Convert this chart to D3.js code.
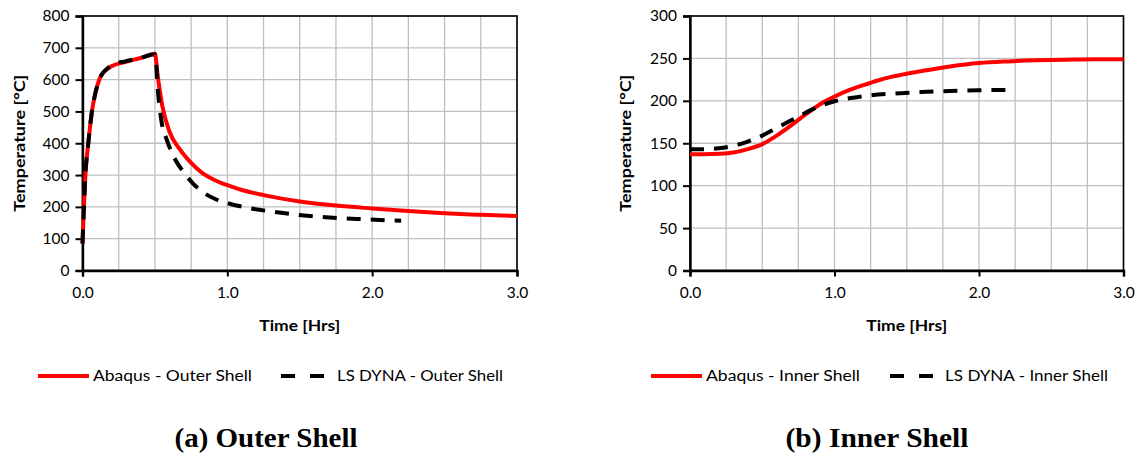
<!DOCTYPE html>
<html><head><meta charset="utf-8">
<script src="https://cdn.jsdelivr.net/npm/d3@7"></script>
<style>body{margin:0;background:#fff} svg{display:block}</style>
</head><body><svg id="c" width="1140" height="456"></svg>
<script>
// ---- data ----
const timeTickLabels = [0, 1, 2, 3];
const timeGridStep = 0.25;
const outerTempTicks = [0, 100, 200, 300, 400, 500, 600, 700, 800];
const innerTempTicks = [0, 50, 100, 150, 200, 250, 300];

const abaqusOuterTime = [0, 0.01, 0.02, 0.04, 0.065, 0.09, 0.12, 0.16, 0.2, 0.3, 0.4, 0.5, 0.52, 0.55, 0.6, 0.67, 0.75, 0.83, 0.9, 1.0, 1.1, 1.25, 1.5, 1.75, 2.0, 2.25, 2.5, 2.75, 3.0];
const abaqusOuter     = [85, 200, 300, 400, 500, 560, 605, 630, 642, 656, 668, 681, 610, 520, 437, 382, 338, 305, 287, 268, 253, 237, 217, 204, 195, 187, 180, 175, 171];
const dynaOuterTime = [0, 0.01, 0.02, 0.04, 0.065, 0.09, 0.12, 0.16, 0.2, 0.3, 0.4, 0.5, 0.524, 0.547, 0.582, 0.64, 0.7, 0.76, 0.83, 0.92, 1.0, 1.13, 1.33, 1.53, 1.73, 1.95, 2.2];
const dynaOuter     = [85, 200, 300, 400, 500, 560, 605, 630, 645, 658, 668, 680, 547, 464, 411, 349, 308, 275, 247, 224, 212, 198, 184, 173, 166, 161, 156];

const abaqusInnerTime = [0, 0.1, 0.2, 0.3, 0.4, 0.5, 0.6, 0.7, 0.8, 0.9, 1.0, 1.1, 1.2, 1.3, 1.4, 1.5, 1.6, 1.8, 2.0, 2.2, 2.4, 2.6, 2.8, 3.0];
const abaqusInner     = [137, 137, 137.5, 139, 143, 149, 159, 171, 184, 196, 205, 212.5, 218.5, 224, 228.5, 232, 235, 240.5, 244.5, 246.5, 247.8, 248.5, 249, 249];
const dynaInnerTime = [0, 0.1, 0.2, 0.3, 0.4, 0.5, 0.6, 0.7, 0.8, 0.9, 1.0, 1.1, 1.2, 1.4, 1.6, 1.8, 2.0, 2.24];
const dynaInner     = [143, 143, 144, 147, 152, 159, 168, 177, 186, 194, 199.5, 203, 205.5, 208.5, 210.3, 211.5, 212.4, 213];

const legendOuter = ["Abaqus - Outer Shell", "LS DYNA - Outer Shell"];
const legendInner = ["Abaqus - Inner Shell", "LS DYNA - Inner Shell"];
const titles = ["(a) Outer Shell", "(b) Inner Shell"];
const xTitle = "Time [Hrs]";
const yTitle = "Temperature [°C]";

// ---- drawing ----
const svg = d3.select("#c");
const FONT = "Lato, 'Open Sans', sans-serif";

function panel(o) {
  const x = d3.scaleLinear().domain([0, 3]).range([o.left, o.right]);
  const y = d3.scaleLinear().domain([0, o.yMax]).range([o.bottom, o.top]);
  const g = svg.append("g");

  // grid
  const vGrid = d3.range(0, 3 + 1e-9, timeGridStep);
  g.append("g").selectAll("line").data(vGrid).join("line")
    .attr("x1", d => x(d)).attr("x2", d => x(d))
    .attr("y1", o.top).attr("y2", o.bottom)
    .attr("stroke", "#bfbfbf").attr("stroke-width", 1.3);
  g.append("g").selectAll("line").data(o.yTicks).join("line")
    .attr("x1", o.left).attr("x2", o.right)
    .attr("y1", d => y(d)).attr("y2", d => y(d))
    .attr("stroke", "#bfbfbf").attr("stroke-width", 1.3);

  // border
  g.append("rect").attr("x", o.left).attr("y", o.top)
    .attr("width", o.right - o.left).attr("height", o.bottom - o.top)
    .attr("fill", "none").attr("stroke", "#000").attr("stroke-width", 1.6);

  // axes
  const yAxis = d3.axisLeft(y).tickValues(o.yTicks).tickSize(7).tickPadding(6).tickFormat(d3.format("d"));
  const ya = g.append("g").attr("transform", `translate(${o.left},0)`).call(yAxis);
  const xAxis = d3.axisBottom(x).tickValues(timeTickLabels).tickSize(6).tickPadding(10).tickFormat(d3.format(".1f"));
  const xa = g.append("g").attr("transform", `translate(0,${o.bottom})`).call(xAxis);
  [ya, xa].forEach(a => {
    a.select(".domain").attr("stroke", "#000").attr("stroke-width", 2.4);
    a.selectAll(".tick line").attr("stroke", "#000").attr("stroke-width", 2);
    a.selectAll("text").attr("font-family", FONT).attr("font-size", 15.5).attr("fill", "#000");
  });

  // axis titles
  g.append("text").attr("x", (o.left + o.right) / 2).attr("y", o.bottom + 60)
    .attr("text-anchor", "middle").attr("font-family", FONT).attr("font-weight", "bold")
    .attr("font-size", 14.5).attr("textLength", 81).attr("lengthAdjust", "spacingAndGlyphs").text(xTitle);
  g.append("text").attr("transform", `translate(${o.yTitleX},${(o.top + o.bottom) / 2}) rotate(-90)`)
    .attr("text-anchor", "middle").attr("font-family", FONT).attr("font-weight", "bold")
    .attr("font-size", 14.5).attr("textLength", 137).attr("lengthAdjust", "spacingAndGlyphs").text(yTitle);

  // lines
  const line = d3.line().x(d => x(d[0])).y(d => y(d[1])).curve(d3.curveMonotoneX);
  const red = d3.zip(o.redT, o.redV);
  const blk = d3.zip(o.blkT, o.blkV);
  g.append("path").datum(red).attr("d", line).attr("fill", "none")
    .attr("stroke", "#ff0000").attr("stroke-width", 4).attr("stroke-linejoin", "round");
  g.append("path").datum(blk).attr("d", line).attr("fill", "none")
    .attr("stroke", "#000").attr("stroke-width", 4).attr("stroke-dasharray", "14,10");

  // legend
  const ly = 376;
  const L = o.legend;
  g.append("line").attr("x1", L.r0).attr("x2", L.r1).attr("y1", ly).attr("y2", ly)
    .attr("stroke", "#ff0000").attr("stroke-width", 4);
  g.append("text").attr("x", L.t0).attr("y", ly + 5).attr("font-family", FONT).attr("font-size", 14.5)
    .attr("fill", "#000").attr("textLength", L.w0).attr("lengthAdjust", "spacingAndGlyphs").text(o.legendText[0]);
  g.append("line").attr("x1", L.b0).attr("x2", L.b1).attr("y1", ly).attr("y2", ly)
    .attr("stroke", "#000").attr("stroke-width", 4).attr("stroke-dasharray", "14,15");
  g.append("text").attr("x", L.t1).attr("y", ly + 5).attr("font-family", FONT).attr("font-size", 14.5)
    .attr("fill", "#000").attr("textLength", L.w1).attr("lengthAdjust", "spacingAndGlyphs").text(o.legendText[1]);

  // title
  svg.append("text").attr("x", o.titleX).attr("y", 447).attr("text-anchor", "middle")
    .attr("font-family", "'Liberation Serif', 'Times New Roman', serif").attr("font-weight", "bold")
    .attr("font-size", 27).attr("textLength", 183).attr("lengthAdjust", "spacingAndGlyphs").text(o.title);
}

panel({
  left: 82.5, right: 517, top: 16, bottom: 270.5, yMax: 800, yTicks: outerTempTicks, yTitleX: 25,
  redT: abaqusOuterTime, redV: abaqusOuter, blkT: dynaOuterTime, blkV: dynaOuter,
  legend: {r0: 38, r1: 89, t0: 93, w0: 159, b0: 281, b1: 324, t1: 337, w1: 166},
  legendText: legendOuter, title: titles[0], titleX: 266
});
panel({
  left: 690, right: 1123.5, top: 16, bottom: 270.5, yMax: 300, yTicks: innerTempTicks, yTitleX: 631,
  redT: abaqusInnerTime, redV: abaqusInner, blkT: dynaInnerTime, blkV: dynaInner,
  legend: {r0: 651, r1: 702, t0: 706, w0: 154, b0: 890, b1: 933, t1: 945, w1: 163},
  legendText: legendInner, title: titles[1], titleX: 877
});
</script></body></html>
